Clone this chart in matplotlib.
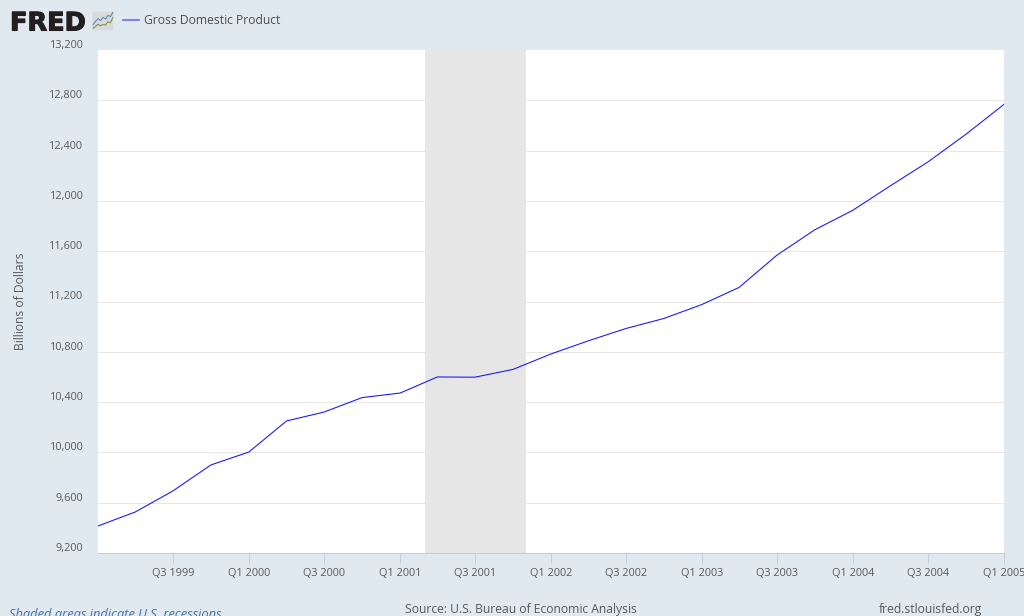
import matplotlib
matplotlib.use("Agg")
import matplotlib.pyplot as plt
import matplotlib.patheffects as pe
import matplotlib.transforms as mtrans
import pandas as pd
from matplotlib.lines import Line2D
from matplotlib.patches import FancyBboxPatch

plt.rcParams["font.family"] = ["Open Sans", "DejaVu Sans"]

BG = "#e1e9f0"
TEXT = "#595959"
AXIS = "#c0d0e0"
LINE = "#1010ff"

QUARTERS = [
    "1999-01-01", "1999-04-01", "1999-07-01", "1999-10-01",
    "2000-01-01", "2000-04-01", "2000-07-01", "2000-10-01",
    "2001-01-01", "2001-04-01", "2001-07-01", "2001-10-01",
    "2002-01-01", "2002-04-01", "2002-07-01", "2002-10-01",
    "2003-01-01", "2003-04-01", "2003-07-01", "2003-10-01",
    "2004-01-01", "2004-04-01", "2004-07-01", "2004-10-01",
    "2005-01-01",
]
GDP = [
    9415, 9526, 9693, 9900,
    10003, 10250, 10321, 10436,
    10472, 10600, 10598, 10660,
    10783, 10887, 10985, 11065,
    11176, 11312, 11567, 11770,
    11925, 12120, 12310, 12530,
    12768,
]
Y_TICKS = [9200, 9600, 10000, 10400, 10800, 11200, 11600, 12000, 12400, 12800, 13200]
X_TICKS = [
    "1999-07-01", "2000-01-01", "2000-07-01", "2001-01-01", "2001-07-01", "2002-01-01",
    "2002-07-01", "2003-01-01", "2003-07-01", "2004-01-01", "2004-07-01", "2005-01-01",
]
X_LABELS = [
    "Q3 1999", "Q1 2000", "Q3 2000", "Q1 2001", "Q3 2001", "Q1 2002",
    "Q3 2002", "Q1 2003", "Q3 2003", "Q1 2004", "Q3 2004", "Q1 2005",
]
RECESSION = ("2001-03-01", "2001-11-01")
ICON_X = [0.05, 0.17, 0.28, 0.4, 0.5, 0.62, 0.72, 0.84, 0.95]
ICON_BLUE = [0.32, 0.5, 0.62, 0.52, 0.68, 0.6, 0.78, 0.72, 0.93]
ICON_GREEN = [0.14, 0.24, 0.34, 0.26, 0.32, 0.3, 0.46, 0.42, 0.68]

W, H = 1024, 616
dates = pd.to_datetime(QUARTERS)

fig = plt.figure(figsize=(W / 100, H / 100), dpi=100, facecolor=BG)
ax = fig.add_axes([98 / W, 1 - 553 / H, 906 / W, 503 / H], facecolor="white")

# recession band
ax.axvspan(pd.Timestamp(RECESSION[0]), pd.Timestamp(RECESSION[1]), color="#e6e6e6", lw=0, zorder=1)
ax.plot(dates, GDP, color=LINE, linewidth=0.75, zorder=3)

ax.set_xlim(dates[0], dates[-1])
ax.set_ylim(9200, 13200)

ax.set_yticks(Y_TICKS)
ax.set_yticklabels([f"{v:,}" for v in Y_TICKS], fontsize=7.8, color=TEXT)
ax.tick_params(axis="y", length=0, pad=10.5)
# labels sit just above their gridlines
nudge = mtrans.ScaledTranslation(0, -1 / 100, fig.dpi_scale_trans)
for label in ax.get_yticklabels():
    label.set_verticalalignment("bottom")
    label.set_transform(label.get_transform() + nudge)
ax.yaxis.grid(True, color="#e6e6e6", linewidth=0.72, zorder=2)
ax.yaxis.get_gridlines()[-1].set_visible(False)
ax.set_axisbelow(False)

ax.set_xticks(pd.to_datetime(X_TICKS))
ax.set_xticklabels(X_LABELS, fontsize=7.8, color=TEXT)
ax.tick_params(axis="x", length=7.5, width=0.72, color=AXIS, pad=3)

for side in ["top", "left", "right"]:
    ax.spines[side].set_visible(False)
ax.spines["bottom"].set_color(AXIS)
ax.spines["bottom"].set_linewidth(0.8)

fig.text(14.5 / W, 1 - 301 / H, "Billions of Dollars", rotation=90, fontsize=8.7,
         color=TEXT, ha="left", va="center")

# header: logo and legend
logo = fig.text(10 / W, 1 - 30.5 / H, "FRED", fontsize=18.4, fontweight="bold", color="#231f20",
                ha="left", va="baseline", family="DejaVu Sans")
logo.set_path_effects([pe.withStroke(linewidth=0.8, foreground="#231f20")])
icon = fig.add_axes([92 / W, 1 - 31 / H, 22 / W, 20 / H])
icon.set_axis_off()
icon.set_xlim(0, 1)
icon.set_ylim(0, 1)
icon.add_patch(FancyBboxPatch((0.03, 0.03), 0.94, 0.94, boxstyle="round,pad=0,rounding_size=0.08",
                              facecolor="#d8dadb", edgecolor="none"))
icon.plot(ICON_X, ICON_BLUE, color="#5f8db5", lw=0.8)
icon.plot(ICON_X, ICON_GREEN, color="#7f9a4a", lw=0.8)

fig.add_artist(Line2D([123 / W, 139 / W], [1 - 20 / H, 1 - 20 / H], color="#7474ff", lw=1.3))
fig.text(144 / W, 1 - 21 / H, "Gross Domestic Product", fontsize=8.7, color="#4d4d4d",
         ha="left", va="center", fontweight="medium")

# footer, runs off the bottom edge like the original
fig.text(9 / W, 1 - 618 / H, "Shaded areas indicate U.S. recessions", fontsize=9.3, style="italic",
         color="#4572a7", ha="left", va="baseline")
fig.text(405 / W, 1 - 613 / H, "Source: U.S. Bureau of Economic Analysis", fontsize=8.7,
         color=TEXT, ha="left", va="baseline")
fig.text(879 / W, 1 - 613 / H, "fred.stlouisfed.org", fontsize=8.7, color=TEXT,
         ha="left", va="baseline")

fig.savefig("out.png", dpi=100, facecolor=BG)
